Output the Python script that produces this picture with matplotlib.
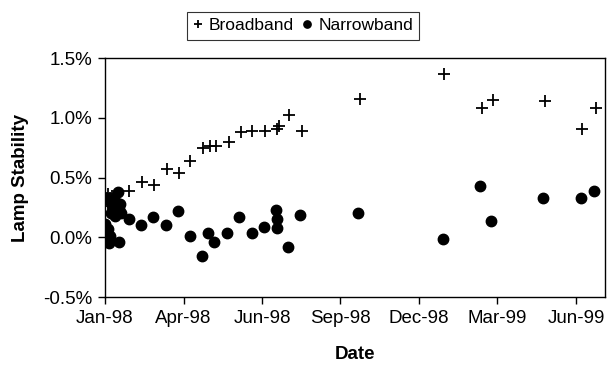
import matplotlib
matplotlib.use('Agg')
import matplotlib.pyplot as plt
import matplotlib.dates as mdates
import numpy as np

plt.rcParams['font.family'] = ['Liberation Sans', 'DejaVu Sans']

# Broadband lamp stability (%)
broad_dates = ['1998-01-01', '1998-01-02', '1998-01-03', '1998-01-04', '1998-01-05',
               '1998-01-06', '1998-01-07', '1998-01-08', '1998-01-09', '1998-01-10',
               '1998-01-11', '1998-01-28', '1998-02-12', '1998-02-26', '1998-03-13',
               '1998-03-27', '1998-04-09', '1998-04-23', '1998-05-01', '1998-05-08',
               '1998-05-23', '1998-06-06', '1998-06-19', '1998-07-03', '1998-07-17',
               '1998-07-19', '1998-07-31', '1998-08-15', '1998-10-20', '1999-01-25',
               '1999-03-09', '1999-03-22', '1999-05-20', '1999-07-02', '1999-07-18']
broad_vals = [0.34, 0.30, 0.33, 0.28, 0.36, 0.31, 0.33, 0.29, 0.35, 0.32,
              0.27, 0.39, 0.46, 0.44, 0.57, 0.54, 0.64, 0.745, 0.76, 0.76,
              0.80, 0.88, 0.89, 0.89, 0.91, 0.93, 1.025, 0.89, 1.16, 1.37,
              1.08, 1.15, 1.14, 0.91, 1.08]

# Narrowband lamp stability (%)
narrow_dates = ['1998-01-01', '1998-01-02', '1998-01-03', '1998-01-04', '1998-01-05',
                '1998-01-06', '1998-01-07', '1998-01-08', '1998-01-09', '1998-01-10',
                '1998-01-11', '1998-01-12', '1998-01-13', '1998-01-14', '1998-01-15',
                '1998-01-16', '1998-01-17', '1998-01-18', '1998-01-19', '1998-01-17',
                '1998-01-28', '1998-02-11', '1998-02-25', '1998-03-12', '1998-03-26',
                '1998-04-08', '1998-04-22', '1998-04-29', '1998-05-06', '1998-05-21',
                '1998-06-04', '1998-06-19', '1998-07-02', '1998-07-16', '1998-07-17',
                '1998-07-17', '1998-07-30', '1998-08-13', '1998-10-18', '1999-01-23',
                '1999-03-07', '1999-03-20', '1999-05-18', '1999-07-01', '1999-07-16']
narrow_vals = [0.11, 0.06, 0.02, -0.03, 0.07, -0.05, 0.01, 0.20, 0.27, 0.23,
               0.31, 0.18, 0.25, 0.21, 0.29, 0.38, 0.24, 0.28, 0.20, -0.04,
               0.155, 0.10, 0.17, 0.10, 0.22, 0.01, -0.16, 0.04, -0.04, 0.04,
               0.17, 0.04, 0.09, 0.23, 0.15, 0.08, -0.08, 0.19, 0.20, -0.01,
               0.43, 0.14, 0.33, 0.33, 0.385]

tick_dates = ['1998-01-01', '1998-04-01', '1998-06-30', '1998-09-28',
              '1998-12-27', '1999-03-27', '1999-06-25']
y_ticks = [-0.5, 0.0, 0.5, 1.0, 1.5]

bx = np.array(broad_dates, dtype='datetime64[D]')
nx = np.array(narrow_dates, dtype='datetime64[D]')
tx = np.array(tick_dates, dtype='datetime64[D]')

fig = plt.figure(figsize=(6.08, 3.65), dpi=100)
ax = fig.add_axes([0.1727, 0.186, 0.822, 0.655])

ax.plot(bx, broad_vals, linestyle='none', marker='+', color='black',
        markersize=9, markeredgewidth=1.3, label='Broadband')
ax.plot(nx, narrow_vals, linestyle='none', marker='o', color='black',
        markersize=7.5, label='Narrowband')

ax.set_xlim(np.datetime64('1998-01-01'), np.datetime64('1999-07-28'))
ax.set_ylim(-0.5, 1.5)
ax.set_xticks(tx)
ax.xaxis.set_major_formatter(mdates.DateFormatter('%b-%y'))
ax.set_yticks(y_ticks)
ax.set_yticklabels([f'{v:.1f}%' for v in y_ticks])

ax.tick_params(direction='out', length=5, width=1, labelsize=13.5, pad=4)
for s in ax.spines.values():
    s.set_linewidth(1)
    s.set_color('black')

ax.set_xlabel('Date', fontsize=13.5, fontweight='bold', labelpad=14)
ax.set_ylabel('Lamp Stability', fontsize=13.5, fontweight='bold', labelpad=10)

leg = fig.legend(loc='center', bbox_to_anchor=(0.499, 0.929), ncol=2,
                 frameon=True, fancybox=False, fontsize=12.5,
                 handlelength=0.5, handletextpad=0.4, columnspacing=0.5,
                 borderpad=0.35, borderaxespad=0, markerscale=0.7)
leg.get_frame().set_edgecolor('black')
leg.get_frame().set_linewidth(0.8)

plt.savefig('out.png', dpi=100)
